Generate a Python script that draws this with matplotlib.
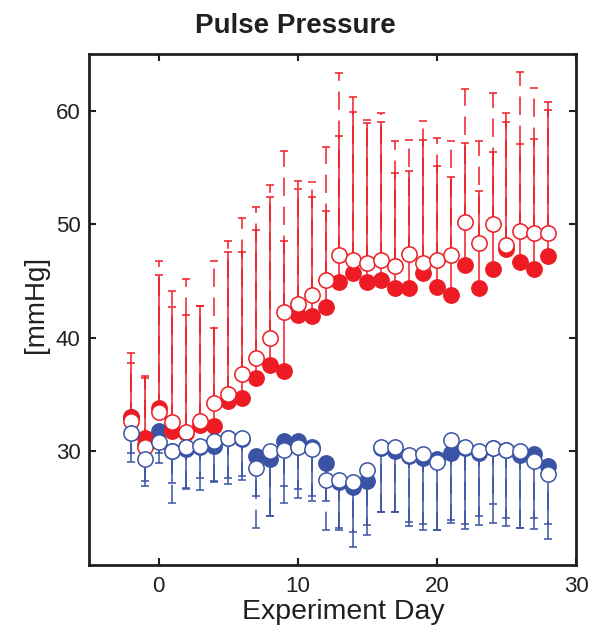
import numpy as np
import matplotlib
matplotlib.use("Agg")
import matplotlib.pyplot as plt

plt.rcParams['font.family'] = ['Liberation Sans', 'DejaVu Sans']

# experiment days
days = list(range(-2, 29))

# red group (upper curves), filled and open markers
red_filled = [33.0, 31.2, 33.8, 31.8, 31.6, 32.3, 32.2, 34.4, 34.7, 36.5, 37.6,
              37.1, 42.0, 41.9, 42.7, 44.9, 45.7, 44.9, 45.1, 44.4, 44.4, 45.7,
              44.5, 43.8, 46.4, 44.4, 46.1, 47.8, 46.7, 46.1, 47.2]
red_open = [32.7, 30.4, 33.5, 32.6, 31.7, 32.7, 34.3, 35.1, 36.8, 38.2, 40.0,
            42.3, 43.0, 43.8, 45.1, 47.3, 46.9, 46.6, 46.9, 46.3, 47.4, 46.6,
            46.9, 47.3, 50.2, 48.4, 50.0, 48.2, 49.4, 49.2, 49.2]
# tops of the upward error bars
red_filled_top = [37.8, 36.5, 45.5, 42.7, 42.0, 42.8, 40.9, 47.6, 47.6, 49.5, 52.4,
                  48.5, 53.1, 52.4, 51.2, 57.8, 59.9, 58.9, 59.0, 54.5, 54.7, 57.4,
                  55.1, 54.2, 57.2, 52.9, 56.4, 59.0, 57.1, 57.5, 60.1]
red_open_top = [38.7, 36.6, 46.8, 44.1, 45.2, 42.8, 46.8, 48.5, 50.6, 51.5, 53.5,
                56.5, 53.8, 53.7, 56.8, 63.3, 61.2, 59.2, 59.8, 57.3, 57.4, 59.1,
                57.6, 57.3, 61.9, 57.3, 61.6, 59.8, 63.4, 62.0, 60.8]

# blue group (lower curves)
blue_filled = [33.0, 30.6, 31.8, 30.0, 30.2, 30.4, 30.5, 31.2, 31.1, 29.6, 29.3,
               30.9, 30.9, 30.4, 29.0, 27.3, 26.9, 27.4, 30.3, 30.0, 29.6, 29.4,
               29.3, 29.9, 30.3, 29.9, 30.3, 30.1, 29.7, 29.8, 28.7]
blue_open = [31.6, 29.3, 30.8, 30.0, 30.4, 30.5, 30.9, 31.2, 31.2, 28.5, 30.0,
             30.1, 30.4, 30.2, 27.5, 27.5, 27.3, 28.4, 30.4, 30.4, 29.7, 29.8,
             29.1, 31.0, 30.4, 30.0, 30.3, 30.1, 30.0, 29.2, 28.0]
# bottoms of the downward error bars
blue_filled_bot = [29.9, 27.4, 29.9, 27.2, 26.8, 27.7, 27.4, 27.7, 27.8, 26.1, 24.3,
                   27.0, 26.7, 26.1, 25.6, 23.3, 22.9, 23.5, 24.7, 24.7, 23.8, 23.6,
                   23.1, 24.0, 23.6, 24.3, 25.4, 24.1, 23.3, 24.1, 23.6]
blue_open_bot = [29.1, 27.0, 29.0, 25.5, 26.7, 26.6, 27.3, 27.1, 27.5, 23.3, 24.3,
                 25.5, 25.9, 25.6, 23.1, 23.1, 21.6, 22.6, 24.7, 24.7, 23.4, 23.1,
                 23.1, 23.7, 23.2, 23.5, 23.7, 23.4, 23.3, 23.2, 22.3]

RED = '#ED1C24'
BLUE = '#3A53A4'

fig = plt.figure(figsize=(5.93, 6.26), dpi=100)
ax = fig.add_axes([89 / 593, 1 - 565 / 626, 487 / 593, 511 / 626])

x = np.array(days)


def bars(y, end, color, dashed, z):
    y = np.array(y)
    end = np.array(end)
    up = np.clip(end - y, 0, None)
    down = np.clip(y - end, 0, None)
    eb = ax.errorbar(x, y, yerr=[down, up], fmt='none', ecolor=color,
                     elinewidth=1.1, capsize=3.2, capthick=1.1, zorder=z)
    if dashed:
        eb[2][0].set_linestyle((0, (12, 7)))
    return eb


bars(blue_filled, blue_filled_bot, BLUE, False, 2)
bars(blue_open, blue_open_bot, BLUE, True, 2)
bars(red_filled, red_filled_top, RED, False, 2)
bars(red_open, red_open_top, RED, True, 2)

ms = 11
ax.plot(x, blue_filled, 'o', ms=ms, mfc=BLUE, mec=BLUE, mew=1.1, zorder=3)
ax.plot(x, red_filled, 'o', ms=ms, mfc=RED, mec=RED, mew=1.1, zorder=4)
ax.plot(x, red_open, 'o', ms=ms, mfc='white', mec=RED, mew=1.1, zorder=5)
ax.plot(x, blue_open, 'o', ms=ms, mfc='white', mec=BLUE, mew=1.1, zorder=6)

ax.set_xlim(-5, 30)
ax.set_ylim(20, 65)
ax.set_xticks([0, 10, 20, 30])
ax.set_yticks([30, 40, 50, 60])
ax.tick_params(direction='in', length=5, width=1.5, labelsize=16,
               top=True, right=True, colors='#231F20')
ax.tick_params(axis='x', pad=8)
ax.tick_params(axis='y', pad=6)
for s in ax.spines.values():
    s.set_linewidth(2.0)
    s.set_color('#231F20')

fig.text(295 / 593, 1 - 33 / 626, 'Pulse Pressure', ha='center', va='baseline',
         fontsize=20, fontweight='bold', color='#231F20')
fig.text(343 / 593, 1 - 619 / 626, 'Experiment Day', ha='center', va='baseline',
         fontsize=20.5, color='#231F20')
fig.text(36 / 593, 1 - 304 / 626, '[mmHg]', ha='center', va='center',
         rotation=90, fontsize=20, color='#231F20')

fig.savefig('out.png', dpi=100)
